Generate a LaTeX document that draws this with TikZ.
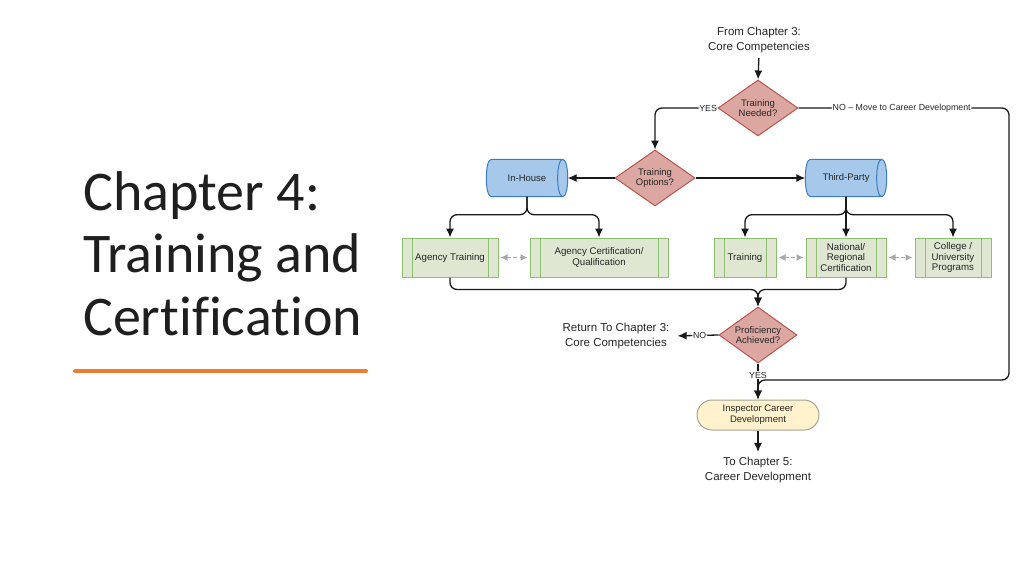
\documentclass[tikz,border=0pt]{standalone}
\usepackage{fontspec}
\setmainfont{Liberation Sans}
\newfontfamily\titlefont[Ligatures=NoCommon]{Carlito}
\usetikzlibrary{shapes.geometric,arrows.meta,backgrounds}
\definecolor{roseF}{HTML}{DCA7A0}
\definecolor{roseD}{HTML}{B85450}
\definecolor{blueF}{HTML}{A6C8EA}
\definecolor{blueD}{HTML}{3D7CC0}
\definecolor{greenF}{HTML}{DFE7D3}
\definecolor{greenD}{HTML}{8CC070}
\definecolor{yelF}{HTML}{FFF2CC}
\definecolor{yelD}{HTML}{A8A294}
\definecolor{orangeL}{HTML}{ED7D31}
\definecolor{dashG}{HTML}{A8A8A8}
\newcommand\cylshape[1]{%
  \draw[cylst] ([xshift=5pt]#1.north west) -- ([xshift=-5pt]#1.north east)
    .. controls +(6.7pt,0pt) and +(6.7pt,0pt) .. ([xshift=-5pt]#1.south east)
    -- ([xshift=5pt]#1.south west)
    .. controls +(-6.7pt,0pt) and +(-6.7pt,0pt) .. ([xshift=5pt]#1.north west) -- cycle;
  \draw[cylst,fill=none] ([xshift=-5pt]#1.north east)
    .. controls +(-6.7pt,0pt) and +(-6.7pt,0pt) .. ([xshift=-5pt]#1.south east);}
\begin{document}
\begin{tikzpicture}[x=1pt,y=-1pt,
  every node/.style={text=black!85},
  conn/.style={line width=1.3pt, black!90, rounded corners=7pt},
  arr/.style={conn, -{Latex[length=9pt,width=8pt]}},
  darr/.style={dashG, line width=1.3pt, dash pattern=on 4pt off 2.5pt,
     {Latex[length=7pt,width=7pt]}-{Latex[length=7pt,width=7pt]}, shorten <=2pt, shorten >=2pt},
  diam/.style={diamond, draw=roseD, fill=roseF, line width=1pt, minimum width=80pt,
     minimum height=56pt, aspect=1.43, inner sep=0pt, align=center,
     font=\fontsize{9.5}{10.5}\selectfont},
  cylnode/.style={minimum width=81pt, minimum height=37pt, inner sep=0pt,
     font=\fontsize{9.5}{10.5}\selectfont},
  cylst/.style={draw=blueD, fill=blueF, line width=1pt},
  procbox/.style={draw=greenD, fill=greenF, line width=1pt, minimum height=39pt,
     inner sep=1.5pt, align=center, font=\fontsize{9.7}{10.8}\selectfont,
     path picture={\draw[greenD, line width=1pt]
       ([xshift=10pt]path picture bounding box.north west) -- ([xshift=10pt]path picture bounding box.south west)
       ([xshift=-10pt]path picture bounding box.north east) -- ([xshift=-10pt]path picture bounding box.south east);}},
  termbox/.style={draw=yelD, fill=yelF, line width=1pt, rounded corners=15pt,
     minimum width=122pt, minimum height=30pt, align=center, inner sep=1pt,
     font=\fontsize{9.5}{11}\selectfont},
  outtxt/.style={align=center, font=\fontsize{11.5}{15}\selectfont, inner sep=2pt},
  lab/.style={fill=white, inner sep=0.8pt, font=\fontsize{8.8}{9.5}\selectfont},
  ttl/.style={anchor=base west, inner sep=0pt, font=\titlefont\fontsize{56}{63}\selectfont, text=black!88}
]
\begin{scope}[on background layer]
\fill[white] (0,0) rectangle (1024,576);
\end{scope}
\useasboundingbox (0,0) rectangle (1024,576);

% title
\node[ttl] (t1) at (83,210) {Chapter 4:};
\node[ttl] (t2) at (83,272) {Training and};
\node[ttl] (t3) at (83,335) {Certification};
\draw[orangeL, line width=4pt, line cap=round] (75,371) -- (366,371);

% nodes
\node[outtxt] (from) at (759,40) {From Chapter 3:\\Core Competencies};
\node[diam] (nd) at (758,108) {Training\\Needed?};
\node[diam] (opt) at (655,178) {Training\\Options?};
\node[cylnode] (inh) at (527,178) {In-House};
\node[cylnode] (thp) at (846,178) {Third-Party};
\begin{scope}[on background layer]
\cylshape{inh}
\cylshape{thp}
\end{scope}
\node[procbox, minimum width=96pt] (at) at (450,257.5) {Agency Training};
\node[procbox, minimum width=138pt] (ac) at (599,257.5) {Agency Certification/\\Qualification};
\node[procbox, minimum width=62pt] (tr) at (745,257.5) {Training};
\node[procbox, minimum width=80pt] (nat) at (846,257.5) {National/\\Regional\\Certification};
\node[procbox, minimum width=76pt] (col) at (953,257.5) {College /\\University\\Programs};
\node[diam, minimum width=78pt] (prof) at (758,335) {Proficiency\\Achieved?};
\node[outtxt] (ret) at (616,336) {Return To Chapter 3:\\Core Competencies};
\node[termbox] (icd) at (758,415) {Inspector Career\\Development};
\node[outtxt] (to5) at (758,470) {To Chapter 5:\\Career Development};

% connectors
\draw[arr, shorten <=3pt] (from.south) -- (nd.north);
\draw[arr] (nd.west) -- node[lab, pos=0.15]{YES} (655,108) -- (opt.north);
\draw[arr] (nd.east) -- node[lab, pos=0.49]{NO -- Move to Career Development} (1009,108)
   -- (1009,380) -- (758,380) -- (icd.north);
\draw[arr] (opt.west) -- (inh.east);
\draw[arr] (opt.east) -- (thp.west);
\draw[arr] (inh.south) -- ++(0,18) -| (at.north);
\draw[arr] (inh.south) -- ++(0,18) -| (ac.north);
\draw[arr] (thp.south) -- ++(0,18) -| (tr.north);
\draw[arr] (thp.south) -- (nat.north);
\draw[arr] (thp.south) -- ++(0,18) -| (col.north);
\draw[darr] (at.east) -- (ac.west);
\draw[darr] (tr.east) -- (nat.west);
\draw[darr] (nat.east) -- (col.west);
\draw[arr] (at.south) -- ++(0,12) -| (prof.north);
\draw[arr] (nat.south) -- ++(0,12) -| (prof.north);
\draw[arr, shorten >=6pt] (prof.west) -- node[lab, pos=0.4]{NO} (ret.east);
\draw[arr] (prof.south) -- node[lab, pos=0.32]{YES} (icd.north);
\draw[arr, shorten >=3pt] (icd.south) -- (to5.north);
\end{tikzpicture}
\end{document}
